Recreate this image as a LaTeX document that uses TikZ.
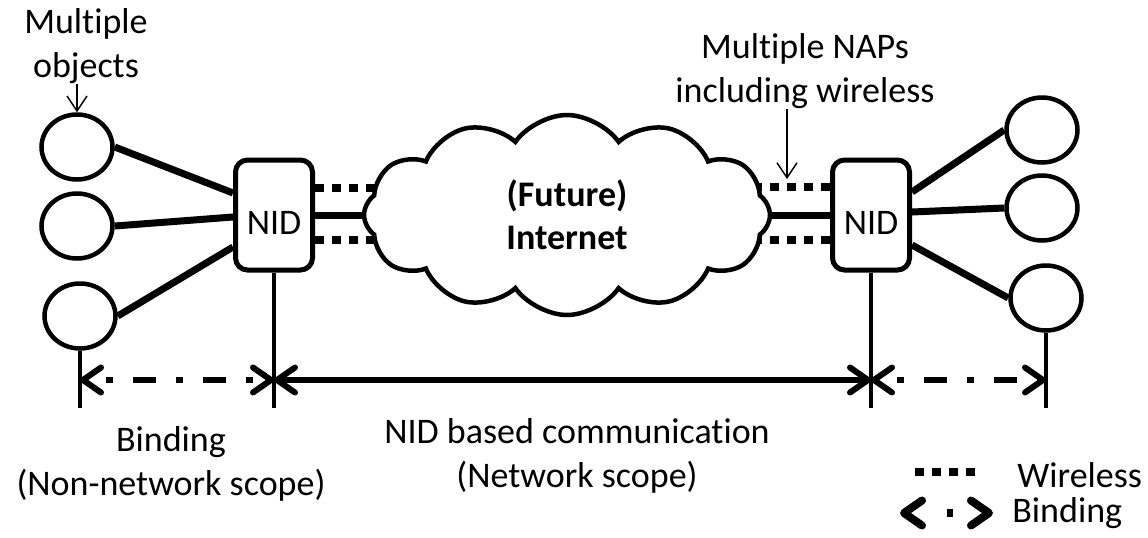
\documentclass[tikz,border=0pt]{standalone}
\usepackage{fontspec}
\setmainfont{Carlito}[Ligatures=NoCommon]
\usetikzlibrary{shapes.geometric,shapes.symbols,arrows.meta}
\pgfdeclarelayer{background}
\pgfsetlayers{background,main}

\begin{document}
\begin{tikzpicture}[x=0.5pt,y=-0.5pt,
    font=\fontsize{18}{22}\selectfont,
    obj/.style={draw,ellipse,line width=2.25pt,minimum width=35.5pt,minimum height=32.5pt,inner sep=0pt},
    nid/.style={draw,rounded corners=6pt,line width=2.5pt,minimum width=38.5pt,minimum height=55pt,
      inner sep=0pt,text height=19pt,text depth=0pt},
    net/.style={draw,cloud,cloud puffs=12,cloud puff arc=110,aspect=2.1,fill=white,line width=2.25pt,
      minimum width=203pt,minimum height=100pt,inner sep=0pt,font=\fontsize{18}{21.5}\selectfont\bfseries,align=center},
    link/.style={line width=3.5pt},
    wless/.style={line width=4pt,dash pattern=on 4.5pt off 4pt},
    vline/.style={line width=2pt},
    callout/.style={line width=0.7pt,-{Straight Barb[length=7.5pt,width=10pt]}},
    tips/.style={line width=3pt,{Straight Barb[length=9pt,width=12.5pt,round]}-{Straight Barb[length=9pt,width=12.5pt,round]}},
    bindarr/.style={tips,dash pattern=on 3.5pt off 10pt on 11.5pt off 10pt,dash phase=25pt},
    nidarr/.style={tips},
    lbl/.style={inner sep=0pt,align=center,anchor=base}]
  \useasboundingbox (0,0) rectangle (1148,537);

  % objects and NIDs
  \node[obj] (l1) at (77,147) {};
  \node[obj] (l2) at (77,226) {};
  \node[obj] (l3) at (80,316) {};
  \node[nid] (nidL) at (274,215) {NID};
  \node[net] (inet) at (567,215) {(Future)\\Internet};
  \node[nid] (nidR) at (871,215) {NID};
  \node[obj] (r1) at (1042,130) {};
  \node[obj] (r2) at (1042,208) {};
  \node[obj] (r3) at (1046,298) {};

  \draw[link] (l1.east) -- ([yshift=11pt]nidL.west);
  \draw[link] (l2.east) -- ([yshift=-1pt]nidL.west);
  \draw[link] (l3.east) -- ([yshift=-16pt]nidL.west);
  \draw[link] ([yshift=11.5pt]nidR.east) -- (r1.west);
  \draw[link] ([yshift=1.5pt]nidR.east) -- (r2.west);
  \draw[link] ([yshift=-15pt]nidR.east) -- (r3.west);

  \begin{pgfonlayer}{background}
    \draw[link] (nidL) -- (inet);
    \draw[link] (inet) -- (nidR);
    \draw[wless] ([yshift=13.5pt]nidL.east) -- ([yshift=13.5pt]nidL.east -| inet.center);
    \draw[wless] ([yshift=-12.5pt]nidL.east) -- ([yshift=-12.5pt]nidL.east -| inet.center);
    \draw[wless] ([yshift=14pt]nidR.west) -- ([yshift=14pt]nidR.west -| inet.center);
    \draw[wless] ([yshift=-12.5pt]nidR.west) -- ([yshift=-12.5pt]nidR.west -| inet.center);
  \end{pgfonlayer}

  % labels on top
  \node[lbl] (objtxt) at (86,77) {Multiple\\objects};
  \node[lbl] (naptxt) at (805,102) {Multiple NAPs\\including wireless};
  \coordinate (napTip) at (787,179);
  \draw[callout] (l1.north |- objtxt.south) -- (l1.north);
  \draw[callout] (naptxt.south -| napTip) -- (napTip);

  % scopes
  \coordinate (row) at (0,380);
  \coordinate (bot) at (0,408);
  \draw[vline] (l3.south) -- (l3.south |- bot);
  \draw[vline] (nidL.south) -- (nidL.south |- bot);
  \draw[vline] (nidR.south) -- (nidR.south |- bot);
  \draw[vline] (r3.south) -- (r3.south |- bot);
  \draw[bindarr] (l3.south |- row) -- (nidL.south |- row);
  \draw[nidarr] (nidL.south |- row) -- (nidR.south |- row);
  \draw[bindarr] (nidR.south |- row) -- (r3.south |- row);

  \node[lbl] (bindtxt) at (171,495) {Binding\\(Non-network scope)};
  \node[lbl] (nettxt) at (577,487) {NID based communication\\(Network scope)};

  % legend
  \coordinate (lgw1) at (915,472);
  \coordinate (lgw2) at (982,472);
  \coordinate (lgb1) at (900,513);
  \coordinate (lgb2) at (993,513);
  \draw[wless] (lgw1) -- (lgw2);
  \draw[tips,line width=4pt,dash pattern=on 0pt off 19.5pt on 3pt off 60pt] (lgb1) -- (lgb2);
  \node[lbl,anchor=base west] (lgwt) at (1017,487) {Wireless};
  \node[lbl,anchor=base west] (lgbt) at (1012,522) {Binding};
\end{tikzpicture}
\end{document}
